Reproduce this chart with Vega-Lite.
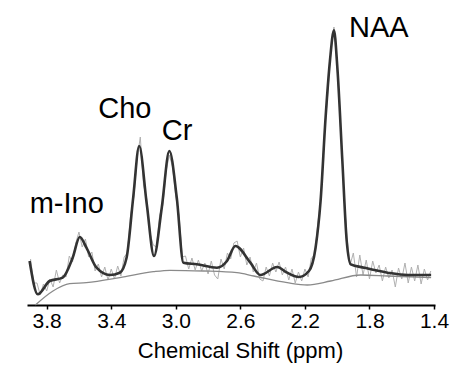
{
  "$schema": "https://vega.github.io/schema/vega-lite/v6.json",
  "autosize": {"type": "none"},
  "padding": {"left": 27, "top": 5, "right": 15, "bottom": 63},
  "width": 408,
  "height": 300,
  "background": "white",
  "config": {"view": {"stroke": null}, "font": "Liberation Sans"},
  "datasets": {
    "fit": [
      {"ppm": 3.906, "y": 44}, {"ppm": 3.855, "y": 10.7}, {"ppm": 3.782, "y": 24}, {"ppm": 3.701, "y": 27.3},
      {"ppm": 3.639, "y": 47.3}, {"ppm": 3.595, "y": 68}, {"ppm": 3.554, "y": 57.3}, {"ppm": 3.491, "y": 37.3},
      {"ppm": 3.409, "y": 30}, {"ppm": 3.347, "y": 32.3}, {"ppm": 3.305, "y": 47.3}, {"ppm": 3.264, "y": 107.3},
      {"ppm": 3.227, "y": 159}, {"ppm": 3.18, "y": 101}, {"ppm": 3.135, "y": 49}, {"ppm": 3.087, "y": 97.3},
      {"ppm": 3.04, "y": 154}, {"ppm": 2.994, "y": 107.3}, {"ppm": 2.953, "y": 42.3}, {"ppm": 2.87, "y": 40.7},
      {"ppm": 2.745, "y": 37.3}, {"ppm": 2.683, "y": 44}, {"ppm": 2.631, "y": 59}, {"ppm": 2.538, "y": 42.3},
      {"ppm": 2.476, "y": 30}, {"ppm": 2.372, "y": 38}, {"ppm": 2.31, "y": 32.3}, {"ppm": 2.238, "y": 28},
      {"ppm": 2.175, "y": 34}, {"ppm": 2.134, "y": 57.3}, {"ppm": 2.103, "y": 104}, {"ppm": 2.072, "y": 187.3},
      {"ppm": 2.045, "y": 244}, {"ppm": 2.02, "y": 274.7}, {"ppm": 1.999, "y": 237.3}, {"ppm": 1.968, "y": 144},
      {"ppm": 1.941, "y": 64}, {"ppm": 1.916, "y": 40.7}, {"ppm": 1.833, "y": 37.3}, {"ppm": 1.688, "y": 32.3},
      {"ppm": 1.563, "y": 30}, {"ppm": 1.418, "y": 30}
    ],
    "baseline": [
      {"ppm": 3.87, "y": 0}, {"ppm": 3.761, "y": 14}, {"ppm": 3.658, "y": 21.3}, {"ppm": 3.554, "y": 22.3},
      {"ppm": 3.347, "y": 27.3}, {"ppm": 3.139, "y": 33.3}, {"ppm": 3.036, "y": 34.7}, {"ppm": 2.828, "y": 34},
      {"ppm": 2.621, "y": 32.3}, {"ppm": 2.517, "y": 29}, {"ppm": 2.31, "y": 22.3}, {"ppm": 2.185, "y": 20},
      {"ppm": 2.04, "y": 24}, {"ppm": 1.854, "y": 30}, {"ppm": 1.688, "y": 29}, {"ppm": 1.418, "y": 27.3}
    ],
    "raw": [
      {"ppm": 3.90, "y": 46}, {"ppm": 3.88, "y": 22}, {"ppm": 3.86, "y": 22}, {"ppm": 3.84, "y": 10},
      {"ppm": 3.82, "y": 21}, {"ppm": 3.80, "y": 14}, {"ppm": 3.78, "y": 26}, {"ppm": 3.76, "y": 18},
      {"ppm": 3.74, "y": 35}, {"ppm": 3.72, "y": 22}, {"ppm": 3.70, "y": 30}, {"ppm": 3.68, "y": 28},
      {"ppm": 3.66, "y": 49}, {"ppm": 3.64, "y": 43}, {"ppm": 3.62, "y": 62}, {"ppm": 3.60, "y": 73},
      {"ppm": 3.58, "y": 58}, {"ppm": 3.56, "y": 66}, {"ppm": 3.54, "y": 48}, {"ppm": 3.52, "y": 53},
      {"ppm": 3.50, "y": 34}, {"ppm": 3.48, "y": 41}, {"ppm": 3.46, "y": 28}, {"ppm": 3.44, "y": 38},
      {"ppm": 3.42, "y": 25}, {"ppm": 3.40, "y": 36}, {"ppm": 3.38, "y": 26}, {"ppm": 3.36, "y": 39},
      {"ppm": 3.34, "y": 29}, {"ppm": 3.32, "y": 48}, {"ppm": 3.30, "y": 52}, {"ppm": 3.28, "y": 90},
      {"ppm": 3.26, "y": 108}, {"ppm": 3.24, "y": 146}, {"ppm": 3.22, "y": 168}, {"ppm": 3.20, "y": 120},
      {"ppm": 3.18, "y": 106}, {"ppm": 3.16, "y": 72}, {"ppm": 3.14, "y": 60}, {"ppm": 3.12, "y": 58},
      {"ppm": 3.10, "y": 90}, {"ppm": 3.08, "y": 100}, {"ppm": 3.06, "y": 134}, {"ppm": 3.04, "y": 150},
      {"ppm": 3.02, "y": 138}, {"ppm": 3.00, "y": 108}, {"ppm": 2.98, "y": 90}, {"ppm": 2.96, "y": 48},
      {"ppm": 2.94, "y": 49}, {"ppm": 2.92, "y": 36}, {"ppm": 2.90, "y": 47}, {"ppm": 2.88, "y": 35},
      {"ppm": 2.86, "y": 45}, {"ppm": 2.84, "y": 34}, {"ppm": 2.82, "y": 42}, {"ppm": 2.80, "y": 31},
      {"ppm": 2.78, "y": 44}, {"ppm": 2.76, "y": 30}, {"ppm": 2.74, "y": 26}, {"ppm": 2.72, "y": 46},
      {"ppm": 2.70, "y": 36}, {"ppm": 2.68, "y": 52}, {"ppm": 2.66, "y": 46}, {"ppm": 2.64, "y": 62},
      {"ppm": 2.62, "y": 64}, {"ppm": 2.60, "y": 48}, {"ppm": 2.58, "y": 57}, {"ppm": 2.56, "y": 40},
      {"ppm": 2.54, "y": 48}, {"ppm": 2.52, "y": 33}, {"ppm": 2.50, "y": 42}, {"ppm": 2.48, "y": 26},
      {"ppm": 2.46, "y": 24}, {"ppm": 2.44, "y": 38}, {"ppm": 2.42, "y": 29}, {"ppm": 2.40, "y": 42},
      {"ppm": 2.38, "y": 33}, {"ppm": 2.36, "y": 43}, {"ppm": 2.34, "y": 30}, {"ppm": 2.32, "y": 38},
      {"ppm": 2.30, "y": 25}, {"ppm": 2.28, "y": 36}, {"ppm": 2.26, "y": 22}, {"ppm": 2.24, "y": 33},
      {"ppm": 2.22, "y": 24}, {"ppm": 2.20, "y": 36}, {"ppm": 2.18, "y": 28}, {"ppm": 2.16, "y": 47},
      {"ppm": 2.14, "y": 50}, {"ppm": 2.12, "y": 82}, {"ppm": 2.10, "y": 108}, {"ppm": 2.08, "y": 170},
      {"ppm": 2.06, "y": 208}, {"ppm": 2.04, "y": 254}, {"ppm": 2.02, "y": 278}, {"ppm": 2.00, "y": 236},
      {"ppm": 1.98, "y": 184}, {"ppm": 1.96, "y": 116}, {"ppm": 1.94, "y": 68}, {"ppm": 1.92, "y": 40},
      {"ppm": 1.90, "y": 52}, {"ppm": 1.88, "y": 28}, {"ppm": 1.86, "y": 50}, {"ppm": 1.84, "y": 30},
      {"ppm": 1.82, "y": 45}, {"ppm": 1.80, "y": 26}, {"ppm": 1.78, "y": 44}, {"ppm": 1.76, "y": 32},
      {"ppm": 1.74, "y": 40}, {"ppm": 1.72, "y": 24}, {"ppm": 1.70, "y": 38}, {"ppm": 1.68, "y": 27},
      {"ppm": 1.66, "y": 35}, {"ppm": 1.64, "y": 18}, {"ppm": 1.62, "y": 37}, {"ppm": 1.60, "y": 26},
      {"ppm": 1.58, "y": 42}, {"ppm": 1.56, "y": 22}, {"ppm": 1.54, "y": 38}, {"ppm": 1.52, "y": 24},
      {"ppm": 1.50, "y": 40}, {"ppm": 1.48, "y": 21}, {"ppm": 1.46, "y": 36}, {"ppm": 1.44, "y": 25},
      {"ppm": 1.42, "y": 34}
    ],
    "labels": [
      {"label": "NAA", "ppm": 1.742, "y": 277},
      {"label": "Cho", "ppm": 3.316, "y": 196},
      {"label": "Cr", "ppm": 2.992, "y": 174},
      {"label": "m-Ino", "ppm": 3.676, "y": 101}
    ]
  },
  "layer": [
    {
      "data": {"name": "raw"},
      "mark": {"type": "line", "color": "#b0b0b0", "strokeWidth": 1},
      "encoding": {
        "x": {
          "field": "ppm", "type": "quantitative",
          "scale": {"domain": [1.394, 3.922], "reverse": true, "nice": false, "zero": false},
          "axis": {
            "title": "Chemical Shift (ppm)",
            "values": [3.9, 3.8, 3.7, 3.6, 3.5, 3.4, 3.3, 3.2, 3.1, 3.0, 2.9, 2.8, 2.7, 2.6, 2.5, 2.4, 2.3, 2.2, 2.1, 2.0, 1.9, 1.8, 1.7, 1.6, 1.5, 1.4],
            "labelExpr": "indexof(['3.8','3.4','3.0','2.6','2.2','1.8','1.4'], format(datum.value, '.1f')) >= 0 ? format(datum.value, '.1f') : ''",
            "domainColor": "black", "domainWidth": 2,
            "tickColor": "black", "tickWidth": 1.5, "tickSize": 4,
            "labelFontSize": 21, "labelColor": "black", "labelPadding": 1, "labelFont": "Liberation Sans",
            "labelOverlap": false, "labelFlush": false,
            "titleFontSize": 22, "titleFontWeight": "normal", "titleColor": "black", "titlePadding": 9, "titleFont": "Liberation Sans",
            "titleX": 213, "titleAnchor": "middle", "titleAlign": "center",
            "grid": false
          }
        },
        "y": {
          "field": "y", "type": "quantitative",
          "scale": {"domain": [0, 300], "nice": false, "zero": false},
          "axis": null
        }
      }
    },
    {
      "data": {"name": "baseline"},
      "mark": {"type": "line", "color": "#8a8a8a", "strokeWidth": 1.3, "interpolate": "monotone"},
      "encoding": {
        "x": {"field": "ppm", "type": "quantitative"},
        "y": {"field": "y", "type": "quantitative"}
      }
    },
    {
      "data": {"name": "fit"},
      "mark": {"type": "line", "color": "#333333", "strokeWidth": 2.6, "interpolate": "monotone"},
      "encoding": {
        "x": {"field": "ppm", "type": "quantitative"},
        "y": {"field": "y", "type": "quantitative"}
      }
    },
    {
      "data": {"name": "labels"},
      "mark": {"type": "text", "fontSize": 29, "font": "Liberation Sans", "color": "black", "align": "center", "baseline": "middle"},
      "encoding": {
        "x": {"field": "ppm", "type": "quantitative"},
        "y": {"field": "y", "type": "quantitative"},
        "text": {"field": "label"}
      }
    }
  ]
}
